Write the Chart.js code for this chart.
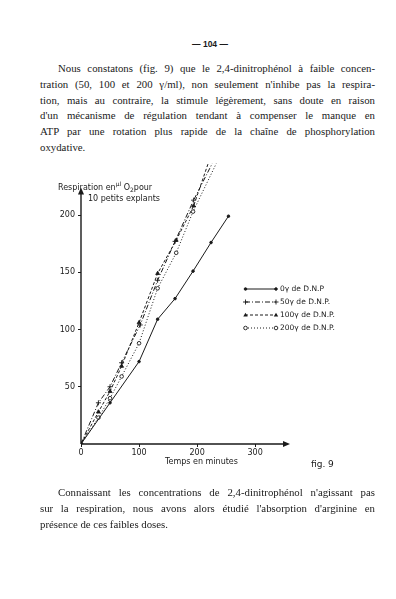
<!DOCTYPE html>
<html lang="fr">
<head>
<meta charset="utf-8">
<script src="https://cdn.jsdelivr.net/npm/chart.js@4.4.0/dist/chart.umd.min.js"></script>
<style>
  html, body { margin: 0; padding: 0; background: #fff; }
  #page { position: relative; width: 396px; height: 599px; overflow: hidden; color: #1a1a1a; font-family: "Liberation Serif", serif; }
  .folio { position: absolute; top: 39px; left: 0; width: 420px; text-align: center; font: bold 8.5px "Liberation Sans", sans-serif; }
  .para { position: absolute; left: 40px; width: 335px; font-size: 10.8px; line-height: 15.8px; }
  .para div { text-align: justify; text-align-last: justify; white-space: nowrap; }
  .para div.last { text-align-last: left; }
  .para div.indent { padding-left: 18px; }
  #chartBox { position: absolute; left: 40px; top: 150px; width: 260px; height: 330px; }
  .lab { position: absolute; font: 8px "DejaVu Sans", sans-serif; white-space: nowrap; color: #1a1a1a; }
  .lab sub { font-size: 6px; }
  #legend { position: absolute; left: 243px; top: 282px; font: 7.5px "DejaVu Sans", sans-serif; }
  #legend .row { height: 13px; display: flex; align-items: center; white-space: nowrap; }
  #legend svg { margin-right: 1px; }
</style>
</head>
<body>
<div id="page">
  <div class="folio">— 104 —</div>
  <div class="para" style="top:61px">
    <div class="indent">Nous constatons (fig. 9) que le 2,4-dinitrophénol à faible concen-</div>
    <div>tration (50, 100 et 200 γ/ml), non seulement n'inhibe pas la respira-</div>
    <div>tion, mais au contraire, la stimule légèrement, sans doute en raison</div>
    <div>d'un mécanisme de régulation tendant à compenser le manque en</div>
    <div>ATP par une rotation plus rapide de la chaîne de phosphorylation</div>
    <div class="last">oxydative.</div>
  </div>

  <div id="chartBox"><canvas id="myChart"></canvas></div>
  <div class="lab" style="left:58px; top:180px">Respiration en<sup style="font-size:6px">µl</sup> O<sub>2</sub>pour</div>
  <div class="lab" style="left:88px; top:194px">10 petits explants</div>
  <div class="lab" style="left:165px; top:457px">Temps en minutes</div>
  <div class="lab" style="left:311px; top:459px; font-size:9px">fig. 9</div>
  <div id="legend"></div>

  <div class="para" style="top:485px">
    <div class="indent">Connaissant les concentrations de 2,4-dinitrophénol n'agissant pas</div>
    <div>sur la respiration, nous avons alors étudié l'absorption d'arginine en</div>
    <div class="last">présence de ces faibles doses.</div>
  </div>
</div>

<script>
// minutes / µl O2
const time0 = [0, 50, 100, 132, 162, 193, 224, 254];
const resp0 = [0, 36, 72, 109, 127, 151, 176, 199];
const time50 = [0, 30, 50, 70, 102, 132, 162, 194, 226];
const resp50 = [0, 36, 50, 71, 104, 143, 177, 213, 245];
const time100 = [0, 30, 50, 70, 100, 132, 164, 194, 219];
const resp100 = [0, 28, 46, 68, 106, 149, 178, 208, 245];
const time200 = [0, 30, 50, 70, 100, 132, 164, 193, 233];
const resp200 = [0, 23, 40, 59, 88, 136, 167, 203, 245];
const xTicks = [0, 100, 200, 300];
const yTicks = [50, 100, 150, 200];
const legendLabels = ["0γ de D.N.P", "50γ de D.N.P.", "100γ de D.N.P.", "200γ de D.N.P."];

const ink = "#1a1a1a";

function toPoints(xs, ys) {
  return xs.map((x, i) => ({ x: x, y: ys[i] }));
}

const styles = [
  { dash: [], pointStyle: "circle", radius: 1.3, fill: ink, openEnd: false },
  { dash: [5, 2, 1, 2], pointStyle: "cross", radius: 2.5, fill: ink, openEnd: true },
  { dash: [3, 2], pointStyle: "triangle", radius: 2.2, fill: ink, openEnd: true },
  { dash: [1, 2], pointStyle: "circle", radius: 1.8, fill: "#fff", openEnd: true },
];
const series = [[time0, resp0], [time50, resp50], [time100, resp100], [time200, resp200]];

const datasets = series.map((s, i) => ({
  label: legendLabels[i],
  data: toPoints(s[0], s[1]),
  showLine: true,
  borderColor: ink,
  borderWidth: 1,
  borderDash: styles[i].dash,
  pointStyle: styles[i].pointStyle,
  // lines leaving the top of the figure carry no end marker
  pointRadius: s[0].map((_, k) => (styles[i].openEnd && k === s[0].length - 1 ? 0 : styles[i].radius)),
  pointBackgroundColor: styles[i].fill,
  pointBorderColor: ink,
  pointBorderWidth: 0.9,
  tension: 0,
}));

// axes with arrow heads, stopping short like on the figure
const axisArrows = {
  id: "axisArrows",
  afterDatasetsDraw(chart) {
    const { ctx, scales } = chart;
    const x0 = scales.x.getPixelForValue(0);
    const y0 = scales.y.getPixelForValue(0);
    const xEnd = scales.x.getPixelForValue(360);
    const yEnd = scales.y.getPixelForValue(224);
    ctx.save();
    ctx.strokeStyle = ink;
    ctx.fillStyle = ink;
    ctx.lineWidth = 1.4;
    ctx.beginPath();
    ctx.moveTo(x0, y0);
    ctx.lineTo(xEnd - 4, y0);
    ctx.moveTo(x0, y0);
    ctx.lineTo(x0, yEnd + 4);
    ctx.stroke();
    ctx.beginPath();
    ctx.moveTo(xEnd, y0);
    ctx.lineTo(xEnd - 7, y0 - 3);
    ctx.lineTo(xEnd - 7, y0 + 3);
    ctx.closePath();
    ctx.fill();
    ctx.beginPath();
    ctx.moveTo(x0, yEnd);
    ctx.lineTo(x0 - 3, yEnd + 7);
    ctx.lineTo(x0 + 3, yEnd + 7);
    ctx.closePath();
    ctx.fill();
    ctx.restore();
  },
};

new Chart(document.getElementById("myChart"), {
  type: "scatter",
  data: { datasets: datasets },
  options: {
    responsive: true,
    maintainAspectRatio: false,
    animation: false,
    layout: { padding: { top: 4, right: 10, left: 0, bottom: 0 } },
    plugins: { legend: { display: false }, tooltip: { enabled: false } },
    scales: {
      x: {
        type: "linear",
        min: 0,
        max: 360,
        afterBuildTicks: (scale) => { scale.ticks = xTicks.map((v) => ({ value: v })); },
        afterFit: (scale) => { scale.height = 36; },
        border: { display: false },
        grid: { drawOnChartArea: false, drawTicks: true, tickLength: 3, color: ink },
        ticks: { color: ink, padding: 1, maxRotation: 0, font: { family: "DejaVu Sans", size: 8 } },
      },
      y: {
        type: "linear",
        min: 0,
        max: 250,
        afterBuildTicks: (scale) => { scale.ticks = yTicks.map((v) => ({ value: v })); },
        afterFit: (scale) => { scale.width = 41; },
        border: { display: false },
        grid: { drawOnChartArea: false, drawTicks: true, tickLength: 3, color: ink },
        ticks: { color: ink, padding: 3, font: { family: "DejaVu Sans", size: 8 } },
      },
    },
  },
  plugins: [axisArrows],
});

// legend: line sample with a marker at each end
function markerSvg(i, cx) {
  const st = styles[i];
  if (st.pointStyle === "cross") {
    return `<path d="M${cx - 2.5} 4H${cx + 2.5}M${cx} 1.5V6.5" stroke="${ink}" stroke-width="0.9"/>`;
  }
  if (st.pointStyle === "triangle") {
    return `<path d="M${cx} 1.8L${cx + 2.2} 5.6L${cx - 2.2} 5.6Z" fill="${ink}"/>`;
  }
  return `<circle cx="${cx}" cy="4" r="${st.radius}" fill="${st.fill}" stroke="${ink}" stroke-width="0.9"/>`;
}

document.getElementById("legend").innerHTML = legendLabels
  .map((label, i) => {
    const dash = styles[i].dash.length ? `stroke-dasharray="${styles[i].dash.join(" ")}"` : "";
    return `<div class="row"><svg width="36" height="8">
      <line x1="2" y1="4" x2="33" y2="4" stroke="${ink}" stroke-width="1" ${dash}/>
      ${markerSvg(i, 2.5)}${markerSvg(i, 33)}
    </svg><span>${label}</span></div>`;
  })
  .join("");
</script>
</body>
</html>
